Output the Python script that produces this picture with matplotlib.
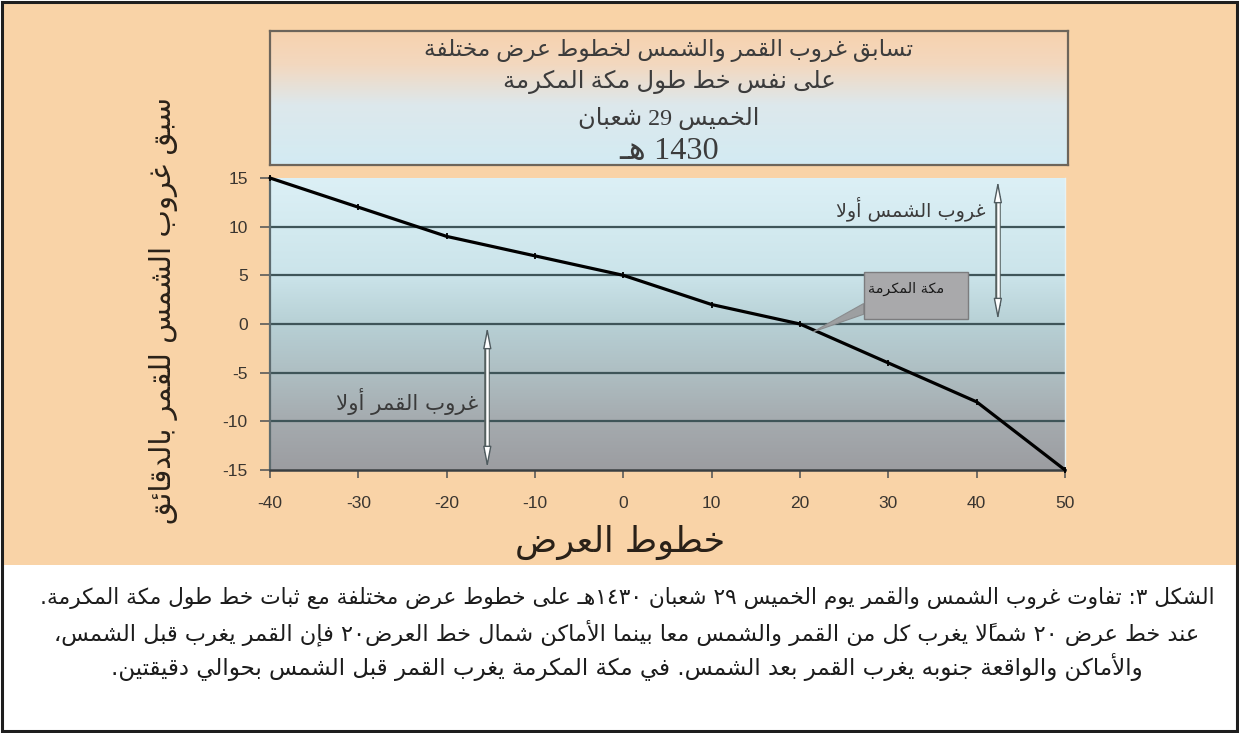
import numpy as np
import matplotlib
matplotlib.use("Agg")
import matplotlib.pyplot as plt
from matplotlib.colors import LinearSegmentedColormap
from matplotlib.patches import Rectangle, Polygon

plt.rcParams["axes.unicode_minus"] = False

# ---------------- data ----------------
latitudes = [-40, -30, -20, -10, 0, 10, 20, 30, 40, 50]
lead_minutes = [15, 12, 9, 7, 5, 2, 0, -4, -8, -15]
x_ticks = [-40, -30, -20, -10, 0, 10, 20, 30, 40, 50]
y_ticks = [-15, -10, -5, 0, 5, 10, 15]

title_lines = [
    "تسابق غروب القمر والشمس لخطوط عرض مختلفة",
    "على نفس خط طول مكة المكرمة",
    "الخميس 29 شعبان",
    "1430 هـ",
]
y_label = "سبق غروب الشمس للقمر بالدقائق"
x_label = "خطوط العرض"
sun_first = "غروب الشمس أولا"
moon_first = "غروب القمر أولا"
mecca_label = "مكة المكرمة"
caption_lines = [
    "الشكل ٣: تفاوت غروب الشمس والقمر يوم الخميس ٢٩ شعبان ١٤٣٠هـ على خطوط عرض مختلفة مع ثبات خط طول مكة المكرمة.",
    "عند خط عرض ٢٠ شمالاً يغرب كل من القمر والشمس معا بينما الأماكن شمال خط العرض٢٠ فإن القمر يغرب قبل الشمس،",
    "والأماكن والواقعة جنوبه يغرب القمر بعد الشمس. في مكة المكرمة يغرب القمر قبل الشمس بحوالي دقيقتين.",
]

# ---------------- minimal Arabic shaping + RTL ordering ----------------
AR_FORMS = {
    "ء": (0xFE80, 1), "آ": (0xFE81, 2), "أ": (0xFE83, 2), "ؤ": (0xFE85, 2),
    "إ": (0xFE87, 2), "ئ": (0xFE89, 4), "ا": (0xFE8D, 2), "ب": (0xFE8F, 4),
    "ة": (0xFE93, 2), "ت": (0xFE95, 4), "ث": (0xFE99, 4), "ج": (0xFE9D, 4),
    "ح": (0xFEA1, 4), "خ": (0xFEA5, 4), "د": (0xFEA9, 2), "ذ": (0xFEAB, 2),
    "ر": (0xFEAD, 2), "ز": (0xFEAF, 2), "س": (0xFEB1, 4), "ش": (0xFEB5, 4),
    "ص": (0xFEB9, 4), "ض": (0xFEBD, 4), "ط": (0xFEC1, 4), "ظ": (0xFEC5, 4),
    "ع": (0xFEC9, 4), "غ": (0xFECD, 4), "ف": (0xFED1, 4), "ق": (0xFED5, 4),
    "ك": (0xFED9, 4), "ل": (0xFEDD, 4), "م": (0xFEE1, 4), "ن": (0xFEE5, 4),
    "ه": (0xFEE9, 4), "و": (0xFEED, 2), "ى": (0xFEEF, 2), "ي": (0xFEF1, 4),
}
LAM_ALEF = {"آ": 0xFEF5, "أ": 0xFEF7, "إ": 0xFEF9, "ا": 0xFEFB}
HARAKAT = set(chr(c) for c in range(0x064B, 0x0653)) | {"\u0670"}
DIGITS = set("0123456789٠١٢٣٤٥٦٧٨٩")
TATWEEL = "ـ"


def _kind(b):
    if len(b) == 3:
        return "R"
    if b == TATWEEL:
        return "D"
    if b in AR_FORMS:
        n = AR_FORMS[b][1]
        return "D" if n == 4 else ("R" if n == 2 else "U")
    return "U"


def rtl(s):
    chars = list(s)
    units = []
    i = 0
    while i < len(chars):
        c = chars[i]
        if c in HARAKAT and units:
            units[-1][1] += c
            i += 1
            continue
        if c == "ل":
            j = i + 1
            marks = ""
            while j < len(chars) and chars[j] in HARAKAT:
                marks += chars[j]
                j += 1
            if j < len(chars) and chars[j] in LAM_ALEF:
                units.append(["LA" + chars[j], marks])
                i = j + 1
                continue
        units.append([c, ""])
        i += 1
    shaped = []
    for k, (b, m) in enumerate(units):
        kb = _kind(b)
        pk = _kind(units[k - 1][0]) if k > 0 else "U"
        nk = _kind(units[k + 1][0]) if k + 1 < len(units) else "U"
        jp = kb in ("R", "D") and pk == "D"
        jn = kb == "D" and nk in ("R", "D")
        if len(b) == 3:
            g = chr(LAM_ALEF[b[2]] + (1 if jp else 0))
        elif b == TATWEEL:
            g = b
        elif b in AR_FORMS:
            base, n = AR_FORMS[b]
            if n == 1:
                g = chr(base)
            elif n == 2:
                g = chr(base + (1 if jp else 0))
            else:
                g = chr(base + (3 if (jp and jn) else 1 if jp else 2 if jn else 0))
        else:
            g = b
        shaped.append((b in DIGITS, g + m))
    tokens = []
    for is_d, g in shaped:
        if is_d and tokens and tokens[-1][0]:
            tokens[-1][1] += g
        else:
            tokens.append([is_d, g])
    return "".join(t[1] for t in reversed(tokens))


# ---------------- figure ----------------
W, H = 1239, 733
fig = plt.figure(figsize=(W / 100, H / 100), dpi=100)
fig.patch.set_facecolor("white")


def fx(x):
    return x / W


def fy(y):
    return 1 - y / H


AR = ["DejaVu Sans"]
AR_SERIF = ["Liberation Serif", "DejaVu Sans"]
PEACH = "#F9D3A7"

# peach panel and outer frame
fig.add_artist(Rectangle((fx(3), fy(565)), fx(1233), 562 / H, transform=fig.transFigure,
                         facecolor=PEACH, edgecolor="none", zorder=0))
fig.add_artist(Rectangle((fx(2), fy(731)), fx(1235), 729 / H, transform=fig.transFigure,
                         facecolor="none", edgecolor="#1e1e1e", lw=2.2, zorder=10))

# ---- title box ----
tax = fig.add_axes([fx(270), fy(165), fx(1068 - 270), (165 - 31) / H])
tcmap = LinearSegmentedColormap.from_list(
    "tbox", [(0.0, "#F7D2AE"), (0.25, "#F3D8BF"), (0.55, "#DDE8EC"), (1.0, "#D3EBF3")])
tax.imshow(np.linspace(0, 1, 256).reshape(-1, 1), cmap=tcmap, aspect="auto",
           extent=[0, 1, 0, 1], transform=tax.transAxes)
tax.set_xticks([])
tax.set_yticks([])
for sp in tax.spines.values():
    sp.set_color("#6d655b")
    sp.set_linewidth(1.6)

# ---- main plot ----
ax = fig.add_axes([fx(270), fy(470), fx(1065 - 270), (470 - 178) / H])
pcmap = LinearSegmentedColormap.from_list(
    "pbg", [(0.0, "#DCF0F6"), (0.33, "#CBE4EA"), (0.5, "#B7D0D5"),
            (0.67, "#AEBEC2"), (0.83, "#A5ABAF"), (1.0, "#9C9DA1")])
ax.imshow(np.linspace(0, 1, 256).reshape(-1, 1), cmap=pcmap, aspect="auto",
          extent=[0, 1, 0, 1], transform=ax.transAxes, zorder=0)
ax.set_xlim(x_ticks[0], x_ticks[-1])
ax.set_ylim(y_ticks[0], y_ticks[-1])
ax.hlines(y_ticks[1:-1], x_ticks[0], x_ticks[-1], colors="#3f5559", lw=1.6, zorder=1)

ax.plot(latitudes, lead_minutes, color="black", lw=2.3, zorder=4, clip_on=False,
        solid_capstyle="round")
ax.plot(latitudes, lead_minutes, ls="none", marker="|", ms=5, mew=1.3, color="black",
        zorder=4, clip_on=False)

ax.set_xticks(x_ticks)
ax.set_yticks(y_ticks)
ax.tick_params(axis="y", direction="out", length=7, width=1.2, color="#5a5a5a",
               pad=9, labelsize=12.5, labelcolor="#3a3530")
ax.tick_params(axis="x", direction="out", length=6, width=1.2, color="#5a5a5a",
               pad=13, labelsize=12.5, labelcolor="#3a3530")
for lab in ax.get_xticklabels() + ax.get_yticklabels():
    lab.set_family("Liberation Sans")
ax.spines["top"].set_visible(False)
ax.spines["right"].set_color("#E6F2F5")
ax.spines["right"].set_linewidth(1.0)
ax.spines["left"].set_color("#5e6c70")
ax.spines["left"].set_linewidth(1.6)
ax.spines["bottom"].set_color("#3a3f42")
ax.spines["bottom"].set_linewidth(1.8)

# double-headed hollow arrows
for xa, y0, y1 in [(42.4, 0.4, 14.7), (-15.4, -0.3, -14.8)]:
    d = np.sign(y1 - y0)
    ax.plot([xa, xa], [y0 + d * 1.5, y1 - d * 1.5], color="#55605f", lw=4.0,
            solid_capstyle="butt", zorder=3)
    ax.plot([xa, xa], [y0 + d * 1.5, y1 - d * 1.5], color="white", lw=1.8,
            solid_capstyle="butt", zorder=3.2)
    for ya, yb in [(y0 + d * 2.0, y0), (y1 - d * 2.0, y1)]:
        ax.annotate("", xy=(xa, yb), xytext=(xa, ya),
                    arrowprops=dict(arrowstyle="-|>,head_length=1.3,head_width=0.25",
                                    fc="white", ec="#4f5b5f", lw=1.0,
                                    shrinkA=0, shrinkB=0),
                    zorder=3.4)

renderer = fig.canvas.get_renderer()


def fit(t, target):
    for _ in range(2):
        bb = t.get_window_extent(renderer)
        w = bb.height if t.get_rotation() else bb.width
        if w > 0:
            t.set_fontsize(t.get_fontsize() * target / w)


st = ax.text(41.0, 11.8, rtl(sun_first), ha="right", va="center", family=AR,
             fontsize=11, color="#3a3a3a", zorder=5)
fit(st, 150)
mtx = ax.text(-16.4, -8.0, rtl(moon_first), ha="right", va="center", family=AR,
              fontsize=11, color="#3a3a3a", zorder=5)
fit(mtx, 142)

# Mecca callout
ax.add_patch(Polygon([(27.2, 2.1), (27.2, 1.0), (21.5, -0.8)], closed=True,
                     facecolor="#9d9fa1", edgecolor="#8a8c8e", lw=0.8, zorder=5))
ax.add_patch(Rectangle((27.2, 0.5), 11.8, 4.8, facecolor="#A9A9AB", edgecolor="#7c7c7e",
                       lw=1.0, zorder=5))
mt = ax.text(32.0, 3.6, rtl(mecca_label), ha="center", va="center", family=AR,
             fontsize=7, color="#1a1a1a", zorder=6)
fit(mt, 76)

# ---- texts ----
title_y = [50, 82, 118, 152]
title_w = [490, 333, 182, 100]
for line, yy, ww in zip(title_lines, title_y, title_w):
    t = fig.text(fx(669), fy(yy), rtl(line), ha="center", va="center",
                 family=AR_SERIF, fontsize=14, color="#3c3c3c")
    fit(t, ww)

yl = fig.text(fx(163), fy(310), rtl(y_label), ha="center", va="center", rotation=90,
              family=AR, fontsize=20, color="#2a2118")
fit(yl, 426)
xl = fig.text(fx(620), fy(542), rtl(x_label), ha="center", va="center",
              family=AR, fontsize=22, color="#2a2118")
fit(xl, 210)

cap_y = [598, 633, 667]
cap_w = [1177, 1145, 1030]
for line, yy, ww in zip(caption_lines, cap_y, cap_w):
    t = fig.text(fx(627), fy(yy), rtl(line), ha="center", va="center",
                 family=AR, fontsize=14, color="#1c1c1c")
    fit(t, ww)

fig.savefig("out.png", dpi=100)
